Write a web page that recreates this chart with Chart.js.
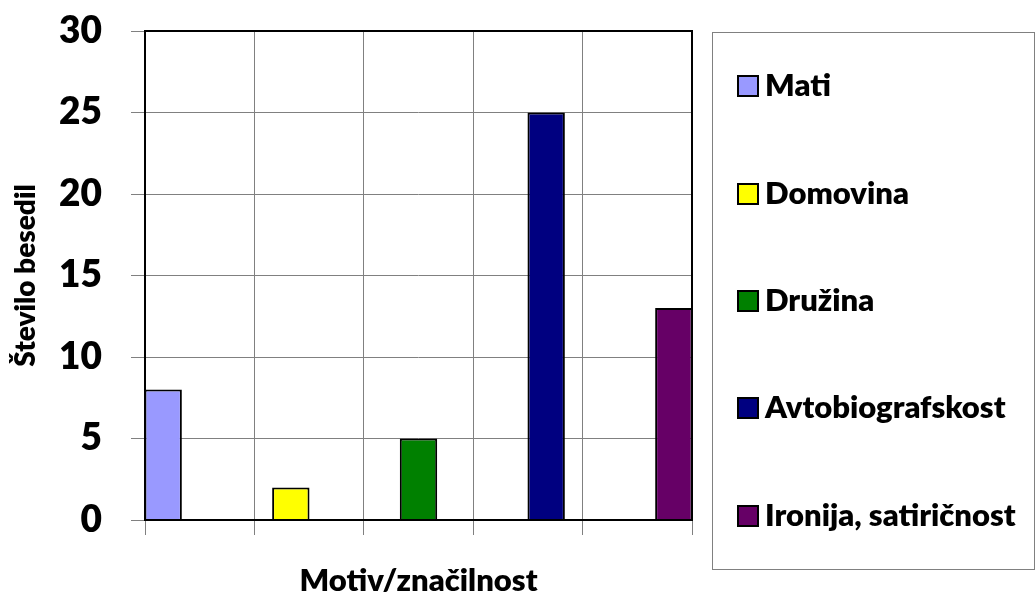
<!DOCTYPE html>
<html>
<head>
<meta charset="utf-8">
<script src="https://cdn.jsdelivr.net/npm/chart.js@4.4.1/dist/chart.umd.min.js"></script>
<style>
    html, body { margin: 0; padding: 0; background: #fff; }
    #wrap { width: 1035px; height: 608px; }
</style>
</head>
<body>
<div id="wrap"><canvas id="chartCanvas"></canvas></div>
<script>
let motivi = ['Mati', 'Domovina', 'Družina', 'Avtobiografskost', 'Ironija, satiričnost'];
let steviloBesedil = [8, 2, 5, 25, 13];
let barve = ['#9999FF', '#FFFF00', '#008000', '#000080', '#660066'];
let yTicks = [0, 5, 10, 15, 20, 25, 30];

Chart.defaults.font.family = 'Lato';
Chart.defaults.color = '#000';

// one category, every motive is its own series (like the Excel original)
let datasets = motivi.map((motiv, i) => ({
    label: motiv,
    data: [steviloBesedil[i]],
    backgroundColor: barve[i],
    borderColor: '#000',
    borderWidth: 2,
    categoryPercentage: 1.167,
    barPercentage: 0.293,
    xAxisID: 'x'
}));

// black frame round the plot area
const okvir = {
    id: 'okvir',
    afterDatasetsDraw(chart) {
        const {ctx, chartArea} = chart;
        ctx.save();
        ctx.strokeStyle = '#000';
        ctx.lineWidth = 2;
        ctx.strokeRect(chartArea.left, chartArea.top, chartArea.right - chartArea.left, chartArea.bottom - chartArea.top);
        ctx.restore();
    }
};

// legend in a box on the right, items spread over the full height
const legenda = {
    id: 'legenda',
    afterDraw(chart) {
        const ctx = chart.ctx;
        const left = 712.5, top = 32.5, right = 1034.5, bottom = 569.5;
        ctx.save();
        ctx.strokeStyle = '#808080';
        ctx.lineWidth = 1;
        ctx.strokeRect(left, top, right - left, bottom - top);
        const slot = (bottom - top) / chart.data.datasets.length;
        ctx.font = '800 31px Lato';
        ctx.textBaseline = 'middle';
        ctx.textAlign = 'left';
        chart.data.datasets.forEach((ds, i) => {
            const y = Math.round(top + slot * (i + 0.5));
            ctx.fillStyle = ds.backgroundColor;
            ctx.fillRect(738, y - 10, 20, 20);
            ctx.strokeStyle = '#000';
            ctx.lineWidth = 2;
            ctx.strokeRect(738, y - 10, 20, 20);
            ctx.fillStyle = '#000';
            ctx.fillText(ds.label, 765, y);
        });
        ctx.restore();
    }
};

let ctx = document.querySelector('#chartCanvas');

let graf = new Chart(ctx, {
    type: 'bar',
    data: {
        labels: [''],
        datasets: datasets
    },
    options: {
        responsive: true,
        maintainAspectRatio: false,
        animation: false,
        layout: {
            padding: { top: 31, right: 343, bottom: 0, left: 0 }
        },
        plugins: {
            legend: { display: false },
            tooltip: { enabled: false }
        },
        scales: {
            x: {
                type: 'category',
                display: false,
                offset: true
            },
            x2: {
                type: 'linear',
                position: 'bottom',
                offset: false,
                min: 0,
                max: 5,
                ticks: { display: false, stepSize: 1 },
                grid: { offset: false, color: '#808080', lineWidth: 1, tickLength: 15 },
                border: { display: false },
                title: {
                    display: true,
                    text: 'Motiv/značilnost',
                    font: { size: 31, weight: 800 },
                    padding: { top: 0, bottom: 8 }
                },
                afterFit(scale) { scale.height = 88; }
            },
            y: {
                position: 'left',
                min: yTicks[0],
                max: yTicks[yTicks.length - 1],
                ticks: {
                    stepSize: yTicks[1] - yTicks[0],
                    padding: 29,
                    font: { size: 37, weight: 800 }
                },
                grid: { color: '#808080', lineWidth: 1, tickLength: 14 },
                border: { display: false },
                title: {
                    display: true,
                    text: 'Število besedil',
                    font: { size: 28, weight: 800 },
                    padding: { top: 9, bottom: 0 }
                },
                afterFit(scale) {
                    scale.width = 145;
                    // tick padding would otherwise push the plot top down
                    scale.paddingTop = 0;
                    scale.paddingBottom = 0;
                }
            }
        }
    },
    plugins: [okvir, legenda]
});
</script>
</body>
</html>
